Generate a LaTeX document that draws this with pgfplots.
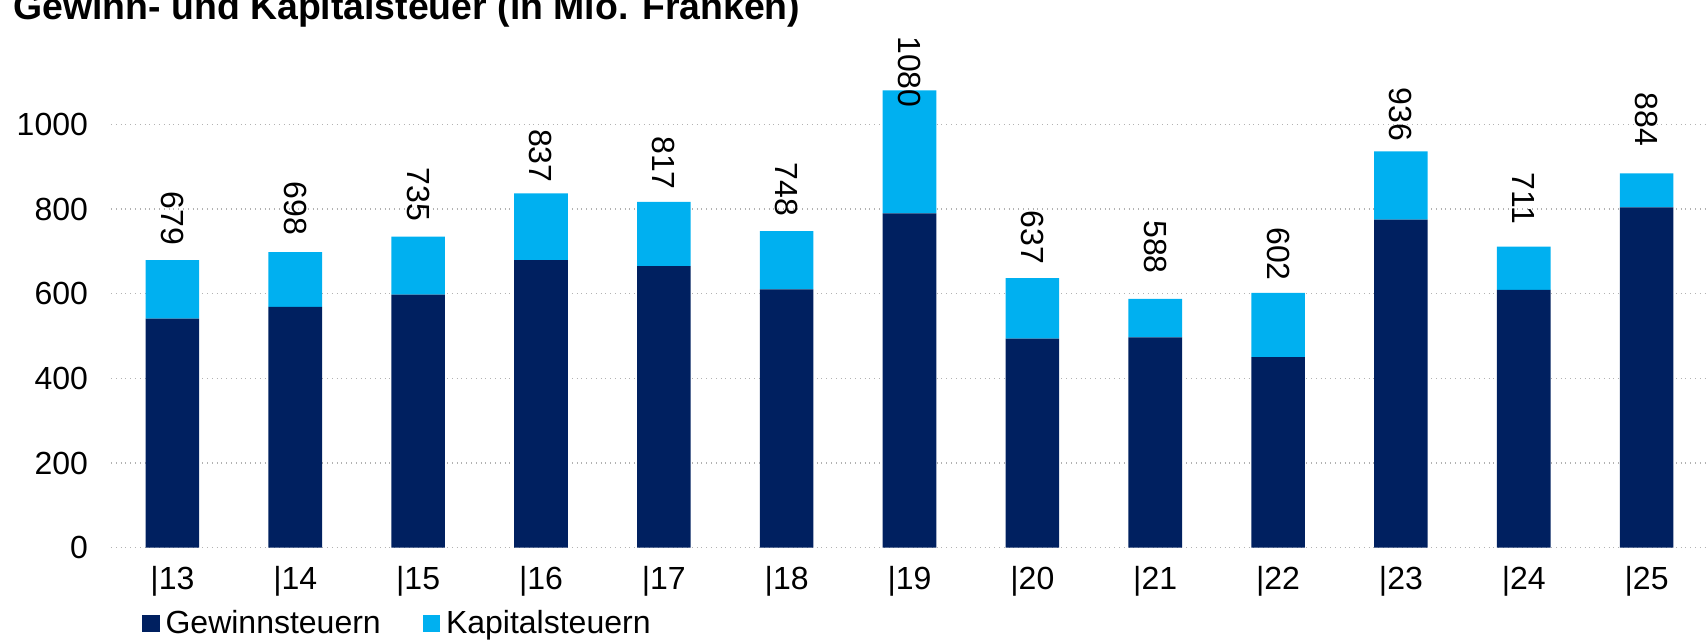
\documentclass[border=0pt]{standalone}
\usepackage{fontspec}
\setmainfont{Liberation Sans}
\usepackage{pgfplots}
\pgfplotsset{compat=1.18}
\usepackage{pgfplotstable}
\definecolor{gew}{HTML}{002060}
\definecolor{kap}{HTML}{00B0F0}

\pgfplotstableread{
x gew kap total
0 541 138 679
1 569 129 698
2 598 137 735
3 679 158 837
4 665 152 817
5 610 138 748
6 790 290 1080
7 494 143 637
8 497 91 588
9 450 152 602
10 775 161 936
11 609 102 711
12 804 80 884
}\data

\begin{document}
\begin{tikzpicture}
\begin{axis}[
  at={(0,0)}, anchor=south west,
  scale only axis, width=798.5pt, height=254pt,
  xmin=-0.5, xmax=12.5, ymin=0, ymax=1200,
  ybar stacked, bar width=26.8pt,
  xtick={0,...,12},
  xticklabels={|13,|14,|15,|16,|17,|18,|19,|20,|21,|22,|23,|24,|25},
  ytick={0,200,...,1000},
  ymajorgrids,
  grid style={gray!60, dotted, line width=0.6pt},
  axis line style={draw=none},
  major tick length=0pt,
  tick label style={font=\fontsize{16}{19}\selectfont},
  yticklabel style={xshift=-8pt},
  xticklabel style={yshift=-5.6pt},
  /pgf/number format/assume math mode=true,
  /pgf/number format/1000 sep={},
  legend columns=2,
  legend image code/.code={\fill[#1] (0pt,-4.3pt) rectangle (8.6pt,4.3pt);},
  legend style={draw=none, fill=none, at={(0.0194,-0.1492)}, anchor=west,
    inner sep=0pt, font=\fontsize{16}{19}\selectfont,
    nodes={inner xsep=3pt, inner ysep=0pt},
    /tikz/every even column/.append style={column sep=18pt}},
  legend cell align=left,
]
\addplot[fill=gew, draw=none] table[x=x, y=gew] {\data};
\addplot[fill=kap, draw=none, nodes near coords, point meta=explicit,
  nodes near coords align={center},
  every node near coord/.style={yshift=22pt, rotate=-90, anchor=east, inner sep=0pt,
    font=\fontsize{16}{19}\selectfont, text=black}]
  table[x=x, y=kap, meta=total] {\data};
\legend{Gewinnsteuern, Kapitalsteuern}
\end{axis}
\node[anchor=base west, font=\bfseries\fontsize{18.7}{22}\selectfont, inner sep=0pt]
  at (-49pt, 263.9pt) {Gewinn- und Kapitalsteuer (in Mio. Franken)};
\pgfresetboundingbox
\useasboundingbox (-55.5pt,-46.15pt) rectangle (798.5pt,273.85pt);
\end{tikzpicture}
\end{document}
